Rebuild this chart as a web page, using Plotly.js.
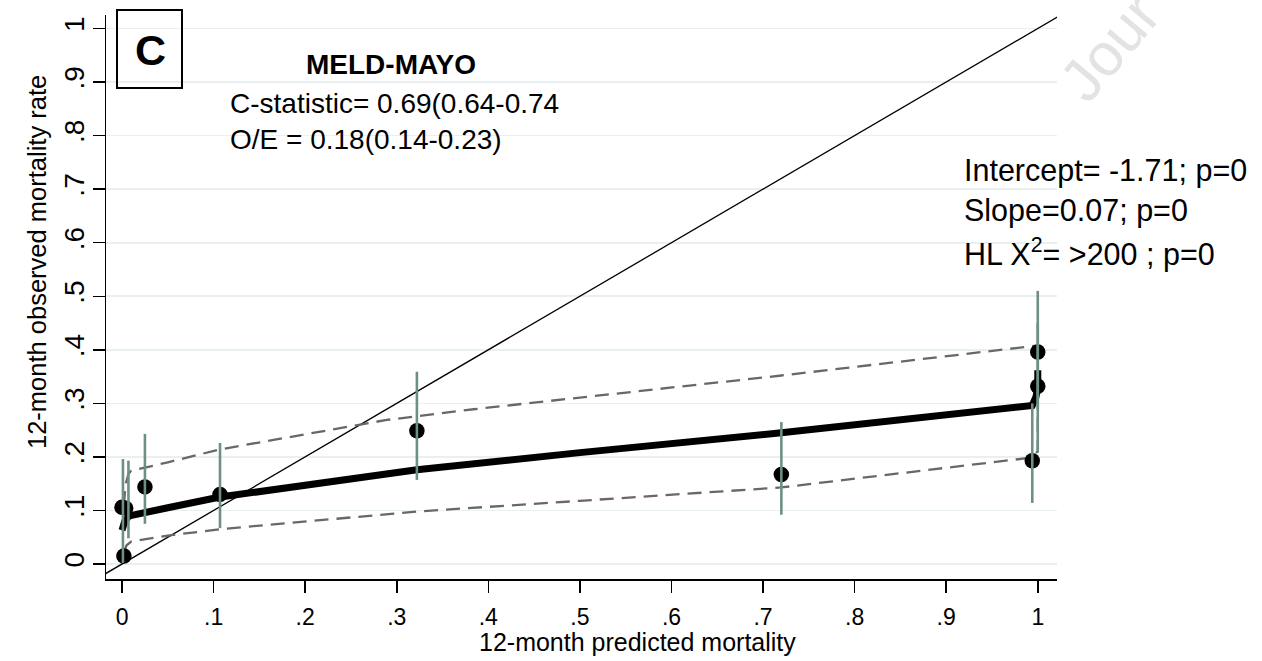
<!DOCTYPE html>
<html>
<head>
<meta charset="utf-8">
<script src="https://cdn.plot.ly/plotly-3.0.1.min.js"></script>
<style>html,body{margin:0;padding:0;background:#fff;}#chart{width:1262px;height:661px;}</style>
</head>
<body>
<div id="chart"></div>
<script>
// ---- data ----
const predicted = [0.000, 0.004, 0.002, 0.025, 0.107, 0.322, 0.720, 0.994, 1.000, 1.000];
const observed  = [0.106, 0.104, 0.015, 0.144, 0.130, 0.249, 0.167, 0.193, 0.332, 0.396];

const ciX    = [0.001, 0.007, 0.025, 0.107, 0.322, 0.720, 0.994, 1.000, 1.000];
const ciLow  = [0.002, 0.048, 0.075, 0.067, 0.157, 0.092, 0.114, 0.210, 0.290];
const ciHigh = [0.196, 0.193, 0.243, 0.226, 0.359, 0.265, 0.300, 0.450, 0.510];

const fitX = [0.000, 0.003, 0.008, 0.025, 0.050, 0.107, 0.200, 0.322, 0.500, 0.720, 0.994, 0.998, 1.000, 1.000];
const fitY = [0.063, 0.080, 0.090, 0.097, 0.105, 0.125, 0.148, 0.176, 0.208, 0.245, 0.296, 0.312, 0.330, 0.362];

const upperX = [0.002, 0.004, 0.007, 0.010, 0.050, 0.107, 0.183, 0.289, 0.384, 0.720, 1.000];
const upperY = [0.110, 0.150, 0.168, 0.174, 0.190, 0.214, 0.237, 0.269, 0.289, 0.352, 0.408];

const lowerX = [0.002, 0.005, 0.010, 0.050, 0.107, 0.183, 0.322, 0.500, 0.720, 0.990, 1.000, 1.000];
const lowerY = [0.022, 0.035, 0.042, 0.053, 0.065, 0.077, 0.098, 0.118, 0.143, 0.198, 0.210, 0.290];

const refLine = [-0.05, 1.05];   // perfect calibration y = x

const tickVals = [0, 0.1, 0.2, 0.3, 0.4, 0.5, 0.6, 0.7, 0.8, 0.9, 1];
const tickText = ['0', '.1', '.2', '.3', '.4', '.5', '.6', '.7', '.8', '.9', '1'];

const panelLabel = 'C';
const modelName = 'MELD-MAYO';
const statsLeft = ['C-statistic= 0.69(0.64-0.74', 'O/E = 0.18(0.14-0.23)'];
const statsRight = ['Intercept= -1.71; p=0', 'Slope=0.07; p=0', 'HL X<sup>2</sup>= &gt;200 ; p=0'];
const xTitle = '12-month predicted mortality';
const yTitle = '12-month observed mortality rate';
const watermark = 'Jour';

// ---- geometry helpers (pixel -> paper) ----
const W = 1262, H = 661;
const M = {l: 106, r: 205, t: 15, b: 82};
const PW = W - M.l - M.r, PH = H - M.t - M.b;
const px = v => (v - M.l) / PW;
const py = v => (H - M.b - v) / PH;

// error-bar segments
const segX = [], segY = [];
ciX.forEach((x, i) => { segX.push(x, x, null); segY.push(ciLow[i], ciHigh[i], null); });

const FONT = 'Liberation Sans, Arial, sans-serif';

const traces = [
  {x: refLine, y: refLine, mode: 'lines', line: {color: '#000', width: 1.3}, hoverinfo: 'skip'},
  {x: upperX, y: upperY, mode: 'lines', line: {color: '#686868', width: 2.3, dash: '14px,8px'}},
  {x: lowerX, y: lowerY, mode: 'lines', line: {color: '#686868', width: 2.3, dash: '14px,8px'}},
  {x: fitX, y: fitY, mode: 'lines', line: {color: '#000', width: 7}},
  {x: predicted, y: observed, mode: 'markers', marker: {color: '#000', size: 15.5, symbol: 'circle', line: {width: 0}}},
  {x: segX, y: segY, mode: 'lines', line: {color: '#6e8f85', width: 2.6}, connectgaps: false}
];

const axisCommon = {
  ticks: 'outside', ticklen: 12, tickwidth: 1.5, tickcolor: '#000',
  showline: true, linecolor: '#000', linewidth: 1.5, zeroline: false,
  tickvals: tickVals, ticktext: tickText
};

const ann = [];
const addText = (text, x, y, opts) => ann.push(Object.assign({
  text: text, x: px(x), y: py(y), xref: 'paper', yref: 'paper', showarrow: false,
  xanchor: 'left', yanchor: 'middle', font: {family: FONT, size: 28, color: '#000'}
}, opts || {}));

addText(panelLabel, 150, 50, {xanchor: 'center', font: {family: 'Liberation Sans Narrow, Liberation Sans, Arial', size: 43, color: '#000', weight: 'bold'}});
addText('<b>' + modelName + '</b>', 391, 65, {xanchor: 'center'});
statsLeft.forEach((t, i) => addText(t, 228, 103 + i * 37));
statsRight.forEach((t, i) => addText(t, 962, 170 + i * 41, {font: {family: FONT, size: 30.5, color: '#000'}}));
addText(xTitle, 637, 642, {xanchor: 'center', font: {family: FONT, size: 25, color: '#000'}});
addText(yTitle, 37, 262, {xanchor: 'center', textangle: -90, font: {family: FONT, size: 25.5, color: '#000'}});
addText(watermark, 1110, 48, {xanchor: 'center', textangle: -50, font: {family: FONT, size: 60, color: '#e3e3e3'}});

const layout = {
  width: W, height: H, margin: M,
  paper_bgcolor: '#fff', plot_bgcolor: '#fff', showlegend: false,
  xaxis: Object.assign({}, axisCommon, {range: [-0.0175, 1.021], showgrid: false,
    tickfont: {family: FONT, size: 23, color: '#000'}, ticklabelstandoff: 5}),
  yaxis: Object.assign({}, axisCommon, {range: [-0.028, 1.0252], tickangle: -90,
    tickfont: {family: FONT, size: 28, color: '#000'}, ticklabelstandoff: -3,
    showgrid: true, gridcolor: '#e8f0f1', gridwidth: 1.6}),
  shapes: [{type: 'rect', xref: 'paper', yref: 'paper', x0: px(117), x1: px(182), y0: py(88), y1: py(10),
    line: {color: '#000', width: 2}, fillcolor: 'rgba(0,0,0,0)'}],
  annotations: ann
};

Plotly.newPlot('chart', traces, layout, {displayModeBar: false, staticPlot: true});
</script>
</body>
</html>
